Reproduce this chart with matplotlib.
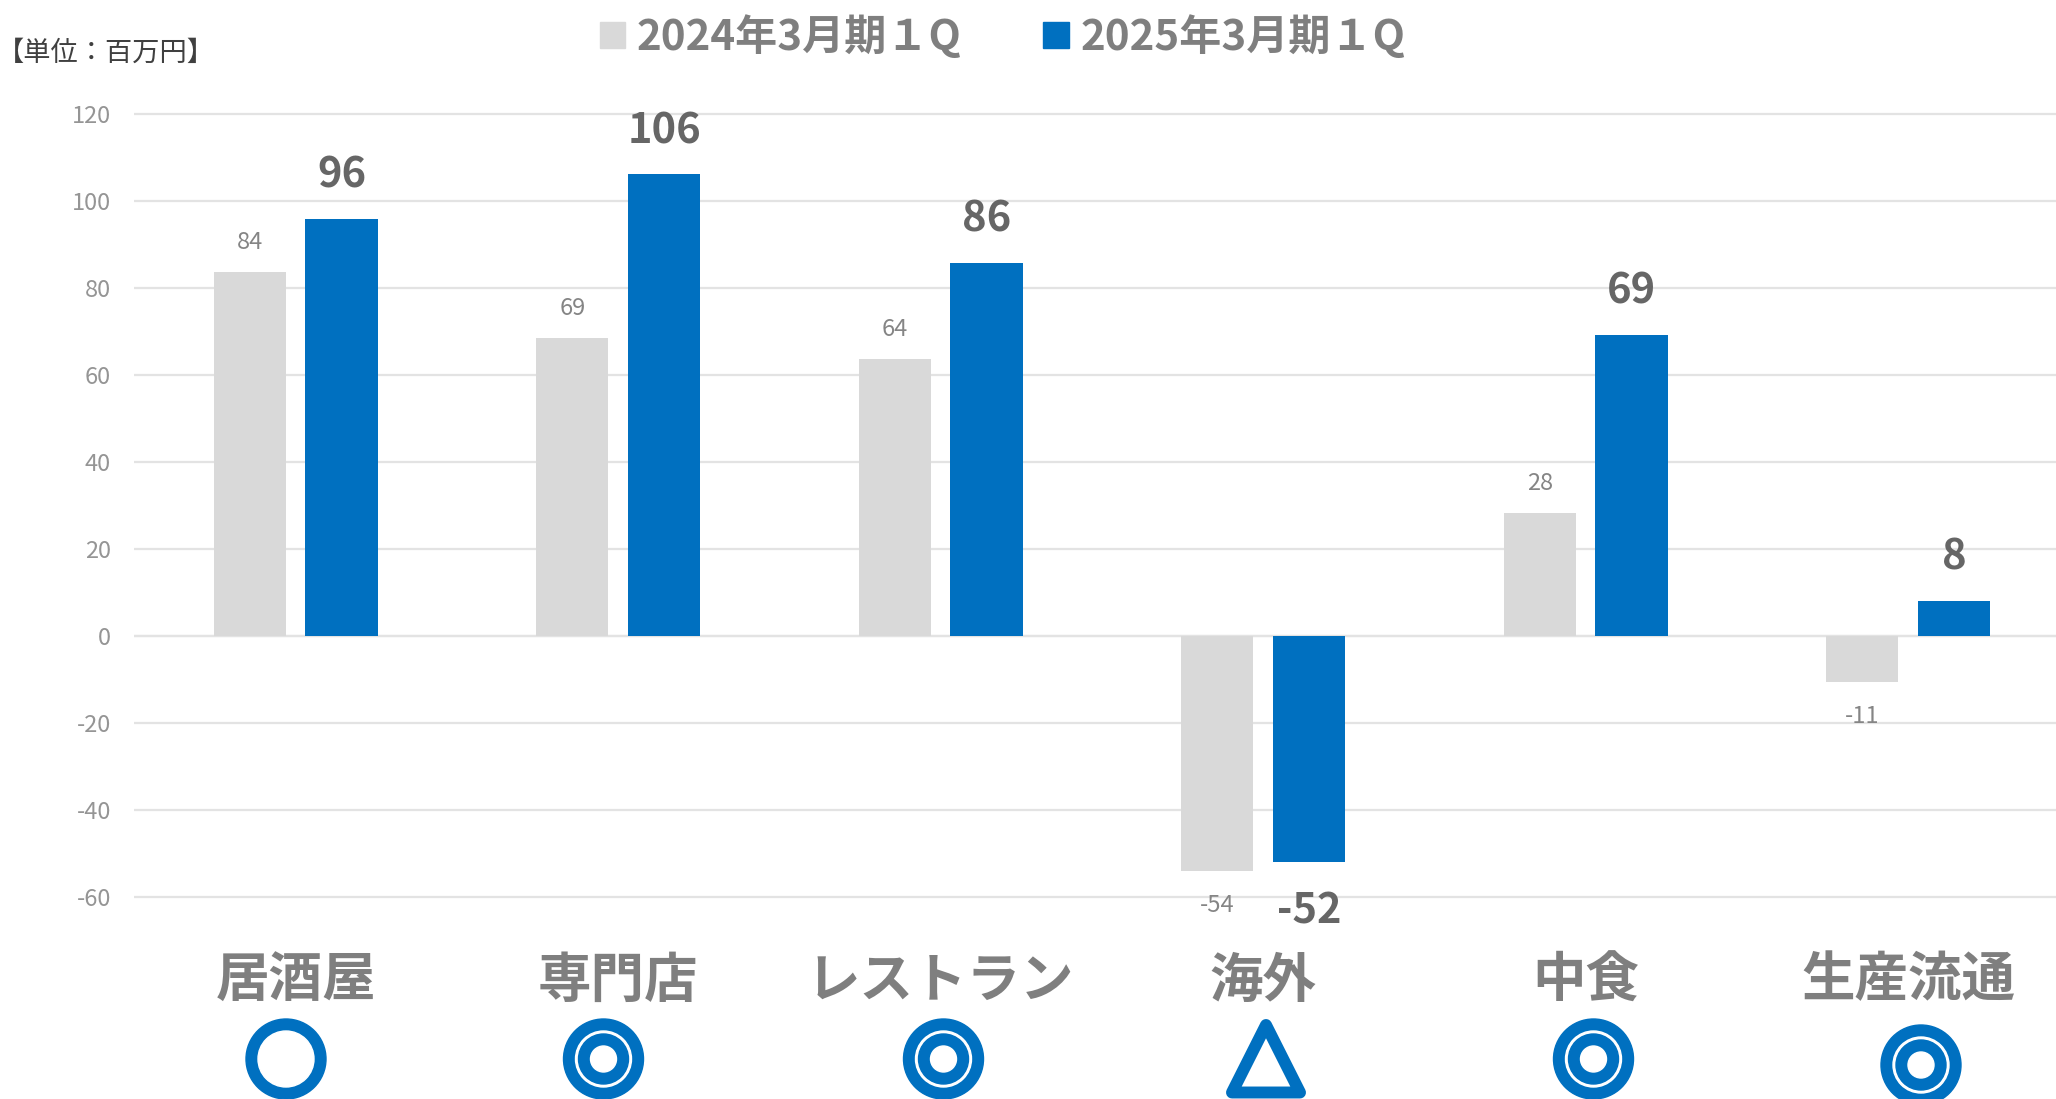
import matplotlib
matplotlib.use('Agg')
import matplotlib.pyplot as plt
from matplotlib.patches import Circle, Polygon, Patch
import numpy as np

plt.rcParams['font.family'] = ['Noto Sans CJK JP', 'DejaVu Sans']
plt.rcParams['axes.unicode_minus'] = False

categorias = ['居酒屋', '専門店', 'レストラン', '海外', '中食', '生産流通']
serie_2024 = [83.7, 68.6, 63.6, -54.0, 28.3, -10.6]
serie_2025 = [95.9, 106.1, 85.7, -51.9, 69.3, 8.1]
nombre_2024 = '2024年3月期１Q'
nombre_2025 = '2025年3月期１Q'
unidad = '【単位：百万円】'
yticks = [-60, -40, -20, 0, 20, 40, 60, 80, 100, 120]

# simbolos de valoracion debajo de cada categoria: tipo, x e y en pixeles
simbolos = [('circulo', 286, 1059), ('doble', 603.5, 1059), ('doble', 943.5, 1059),
            ('triangulo', 1266, 1059), ('doble', 1593.5, 1059), ('doble', 1921, 1065)]

W, H = 2056, 1099
GRIS = '#D9D9D9'
AZUL = '#0070C0'

fig = plt.figure(figsize=(W / 100, H / 100), dpi=100)

# Ejes colocados en pixeles: 120 -> y=114, -60 -> y=897
px_unidad = (897.0 - 114.0) / 180
margen = 5
y_top = 114.0 - margen * px_unidad
y_bot = 897.0 + margen * px_unidad
x_izq = 134.4
ax = fig.add_axes([x_izq / W, 1 - y_bot / H, (W - x_izq) / W, (y_bot - y_top) / H])

x = np.arange(len(categorias))
ancho = 0.2236
sep = 0.1423
barras_2024 = ax.bar(x - sep, serie_2024, ancho, color=GRIS, label=nombre_2024, zorder=3)
barras_2025 = ax.bar(x + sep, serie_2025, ancho, color=AZUL, label=nombre_2025, zorder=3)

etq_2024 = ax.bar_label(barras_2024, fmt='%.0f', padding=13, fontsize=17, color='#858585')
etq_2025 = ax.bar_label(barras_2025, fmt='%.0f', padding=16, fontsize=30, color='#666666', fontweight='bold')

# las etiquetas de valores negativos van mas separadas de la barra
for t, v in zip(etq_2024, serie_2024):
    if v < 0:
        t.xyann = (0, -16.6)
for t, v in zip(etq_2025, serie_2025):
    if v < 0:
        t.xyann = (0, -21)

ax.set_xlim(-0.5, -0.5 + (W - x_izq) / 322.5)
ax.set_ylim(-60 - margen, 120 + margen)
ax.set_yticks(yticks)
ax.set_xticks(x)
ax.set_xticklabels(categorias, fontsize=38.5, fontweight='bold', color='#7F7F7F')
ax.tick_params(axis='x', length=0, pad=25)
ax.tick_params(axis='y', length=0, pad=16.8, labelsize=17, labelcolor='#959595')
ax.grid(axis='y', color='#E3E3E3', linewidth=1.6, zorder=0)
ax.axhline(0, color='#E3E3E3', linewidth=1.6, zorder=1)
ax.set_axisbelow(True)
for s in ax.spines.values():
    s.set_visible(False)

# Leyenda arriba, sin marco
fig.legend(handles=[Patch(color=GRIS, label=nombre_2024), Patch(color=AZUL, label=nombre_2025)],
           loc='center', bbox_to_anchor=(1002.5 / W, 1 - 37 / H), ncol=2, frameon=False,
           labelcolor='#7F7F7F', prop={'weight': 'bold', 'size': 30.3},
           handlelength=0.6, handleheight=0.6, handletextpad=0.27, columnspacing=1.95,
           borderpad=0, borderaxespad=0)

fig.text(-3 / W, 1 - 53 / H, unidad, fontsize=19.6, color='#404040', va='center', ha='left')

# Capa en pixeles para los simbolos
capa = fig.add_axes([0, 0, 1, 1], facecolor='none')
capa.set_xlim(0, W)
capa.set_ylim(H, 0)
capa.axis('off')

for tipo, sx, sy in simbolos:
    if tipo == 'triangulo':
        capa.add_patch(Polygon([(sx, 1025), (sx - 34, 1092.5), (sx + 34, 1092.5)], closed=True,
                               facecolor='white', edgecolor=AZUL, linewidth=8.6, joinstyle='round'))
    elif tipo == 'circulo':
        capa.add_patch(Circle((sx, sy), 40, color=AZUL))
        capa.add_patch(Circle((sx, sy), 28, color='white'))
    else:
        capa.add_patch(Circle((sx, sy), 40, color=AZUL))
        capa.add_patch(Circle((sx, sy), 28, color='white'))
        capa.add_patch(Circle((sx, sy), 25, color=AZUL))
        capa.add_patch(Circle((sx, sy), 13, color='white'))

fig.savefig('out.png', dpi=100)
